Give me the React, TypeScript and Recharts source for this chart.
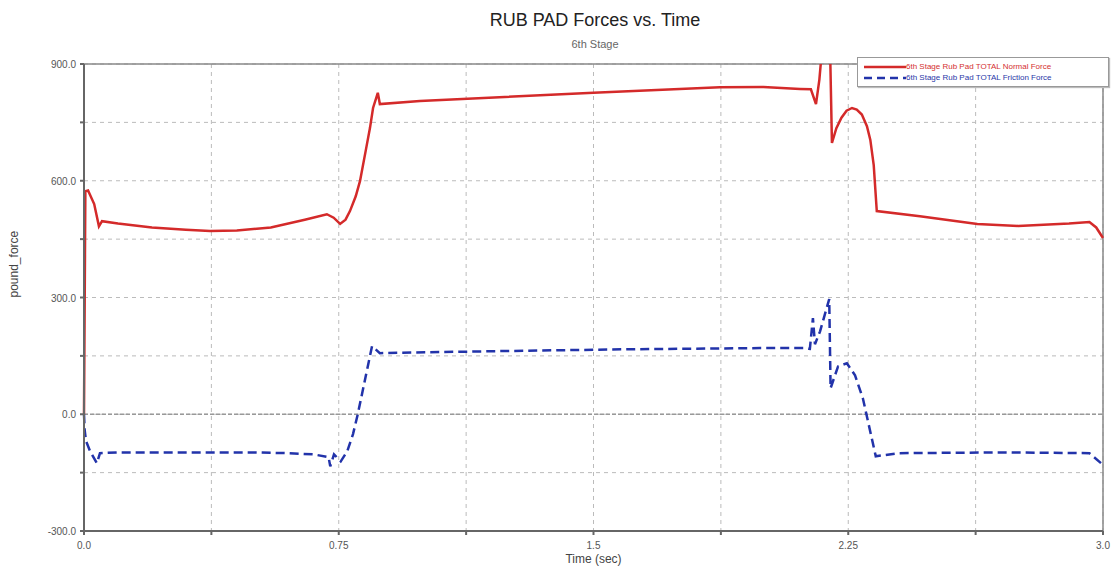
import { LineChart, Line, XAxis, YAxis, CartesianGrid, ReferenceLine } from 'recharts';

const normalTime = [
  0, 0.004, 0.012, 0.03, 0.044, 0.053, 0.1, 0.2, 0.3, 0.371, 0.45, 0.55, 0.65, 0.715, 0.735, 0.754,
  0.77, 0.783, 0.8, 0.8125, 0.83, 0.842, 0.851, 0.865, 0.871, 0.989, 1.5, 1.872, 2.0, 2.108, 2.14,
  2.155, 2.165, 2.175, 2.196, 2.202, 2.215, 2.23, 2.245, 2.261, 2.275, 2.29, 2.305, 2.315, 2.325,
  2.334, 2.461, 2.63, 2.75, 2.9, 2.96, 2.98, 3.0,
];
const normalForce = [
  0, 573, 575, 540, 483, 496, 490, 480, 474, 471, 472, 480, 500, 514, 505, 489,
  500, 522, 560, 599, 680, 736, 787, 826, 797, 805, 826, 840, 841, 836, 835,
  797, 860, 960, 960, 697, 735, 762, 780, 787, 783, 770, 740, 705, 640,
  522, 509, 489, 484, 490, 494, 480, 453,
];

const frictionTime = [
  0, 0.002, 0.006, 0.018, 0.038, 0.047, 0.1, 0.5, 0.6, 0.674, 0.72, 0.725, 0.736, 0.756, 0.775,
  0.792, 0.806, 0.83, 0.848, 0.871, 1.2, 1.6, 1.99, 2.12, 2.137, 2.146, 2.152, 2.167, 2.194, 2.198,
  2.22, 2.246, 2.27, 2.293, 2.331, 2.4, 2.7, 2.96, 3.0,
];
const frictionForce = [
  0, -41, -69, -95, -126, -100, -98, -98, -100, -103, -110, -134, -103, -121, -95,
  -51, 0, 100, 175, 157, 162, 167, 170, 170, 168, 247, 180, 213, 296, 67,
  123, 131, 100, 41, -108, -100, -98, -100, -130,
];

const xTicks = [0, 0.375, 0.75, 1.125, 1.5, 1.875, 2.25, 2.625, 3.0];
const xLabels: Record<string, string> = { '0': '0.0', '0.75': '0.75', '1.5': '1.5', '2.25': '2.25', '3': '3.0' };
const yTicks = [-300, -150, 0, 150, 300, 450, 600, 750, 900];
const yLabeled = [-300, 0, 300, 600, 900];

const normalName = '6th Stage Rub Pad TOTAL Normal Force';
const frictionName = '6th Stage Rub Pad TOTAL Friction Force';

const normalData = normalTime.map((t, i) => ({ t, v: normalForce[i] }));
const frictionData = frictionTime.map((t, i) => ({ t, v: frictionForce[i] }));

const XTick = (props: any) => {
  const { x, y, payload } = props;
  const label = xLabels[String(payload.value)];
  if (!label) return null;
  return (
    <text x={x} y={y + 12} textAnchor="middle" fontSize={10} fill="#555" fontFamily="Liberation Sans, Arial">
      {label}
    </text>
  );
};

const YTick = (props: any) => {
  const { x, y, payload } = props;
  if (!yLabeled.includes(payload.value)) return null;
  return (
    <text x={x - 2} y={y + 4} textAnchor="end" fontSize={10} fill="#555" fontFamily="Liberation Sans, Arial">
      {payload.value.toFixed(1)}
    </text>
  );
};

const LegendBox = () => (
  <div
    style={{
      position: 'absolute',
      left: 857,
      top: 57,
      width: 238,
      border: '1px solid #999',
      background: '#fff',
      padding: '3px 6px',
      fontFamily: 'Liberation Sans, Arial',
      fontSize: 8,
      lineHeight: '11px',
      boxShadow: '1px 1px 1px #bbb',
    }}
  >
    <div style={{ display: 'flex', alignItems: 'center', color: '#d43030' }}>
      <svg width={42} height={6}>
        <line x1={0} y1={3} x2={42} y2={3} stroke="#d42a2a" strokeWidth={2.5} />
      </svg>
      <span>{normalName}</span>
    </div>
    <div style={{ display: 'flex', alignItems: 'center', color: '#2a38a8' }}>
      <svg width={42} height={6}>
        <line x1={0} y1={3} x2={42} y2={3} stroke="#2233aa" strokeWidth={2.5} strokeDasharray="8 5" />
      </svg>
      <span>{frictionName}</span>
    </div>
  </div>
);

export default function App() {
  return (
    <div style={{ position: 'absolute', left: 0, top: 0, width: 1112, height: 571, background: '#fff' }}>
      <div style={{ position: 'absolute', left: 0, width: 1190, top: 10, textAlign: 'center', fontFamily: 'Liberation Sans, Arial', fontSize: 18, color: '#222' }}>
        RUB PAD Forces vs. Time
      </div>
      <div style={{ position: 'absolute', left: 0, width: 1190, top: 38, textAlign: 'center', fontFamily: 'Liberation Sans, Arial', fontSize: 11, color: '#666' }}>
        6th Stage
      </div>
      <LineChart width={1112} height={571} margin={{ top: 64, right: 9, bottom: 10, left: 8 }}>
        <CartesianGrid stroke="#bbb" strokeDasharray="4 4" horizontalValues={yTicks} verticalValues={xTicks} />
        <XAxis
          type="number"
          dataKey="t"
          domain={[0, 3]}
          ticks={xTicks}
          tick={<XTick />}
          height={30}
          stroke="#666"
          strokeWidth={2}
          tickSize={4}
          allowDuplicatedCategory={false}
          label={{ value: 'Time (sec)', position: 'insideBottom', offset: -2, fontSize: 12, fill: '#444', fontFamily: 'Liberation Sans, Arial' }}
        />
        <YAxis
          type="number"
          dataKey="v"
          domain={[-300, 900]}
          allowDataOverflow
          ticks={yTicks}
          tick={<YTick />}
          width={76}
          stroke="#666"
          strokeWidth={2}
          tickSize={4}
          label={{ value: 'pound_force', angle: -90, position: 'insideLeft', offset: 6, fontSize: 12, fill: '#444', fontFamily: 'Liberation Sans, Arial' }}
        />
        <ReferenceLine y={900} stroke="#888" strokeWidth={1.5} />
        <ReferenceLine x={3} stroke="#888" strokeWidth={1.5} />
        <ReferenceLine y={0} stroke="#999" strokeWidth={1.5} strokeDasharray="4 2" />
        <Line
          data={normalData}
          dataKey="v"
          name={normalName}
          type="linear"
          stroke="#d42a2a"
          strokeWidth={2.5}
          dot={false}
          isAnimationActive={false}
        />
        <Line
          data={frictionData}
          dataKey="v"
          name={frictionName}
          type="linear"
          stroke="#2233aa"
          strokeWidth={2.5}
          strokeDasharray="9 5"
          dot={false}
          isAnimationActive={false}
        />
      </LineChart>
      <LegendBox />
    </div>
  );
}
